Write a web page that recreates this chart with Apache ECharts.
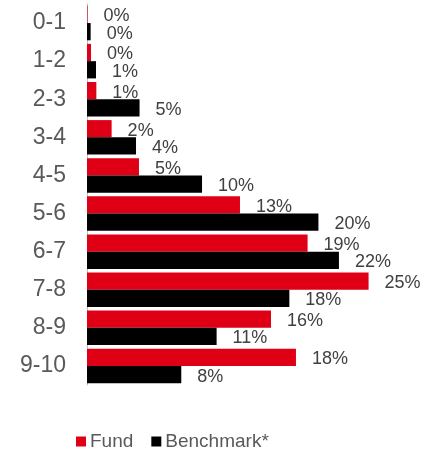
<!DOCTYPE html>
<html><head><meta charset="utf-8">
<script src="https://cdn.jsdelivr.net/npm/echarts@6/dist/echarts.min.js"></script>
<style>html,body{margin:0;padding:0;background:#fff}#c{width:435px;height:451px}</style>
</head><body><div id="c"></div>
<script>
var categories = ['0-1','1-2','2-3','3-4','4-5','5-6','6-7','7-8','8-9','9-10'];
var fund = [0.05, 0.35, 0.82, 2.16, 4.56, 13.42, 19.35, 24.7, 16.14, 18.33];
var benchmark = [0.32, 0.79, 4.61, 4.3, 10.09, 20.3, 22.1, 17.75, 11.37, 8.27];
var seriesNames = ['Fund', 'Benchmark*'];

var chart = echarts.init(document.getElementById('c'), null, {renderer:'canvas'});
var lbl = {
  show: true, position: 'right', distance: 16, offset: [0, 2],
  color: '#404040', fontSize: 18, fontFamily: 'Liberation Sans, Arial, sans-serif',
  formatter: function(p){ return Math.round(p.value) + '%'; }
};
chart.setOption({
  animation: false,
  grid: {left: 87, right: 6, top: 4, bottom: 66},
  legend: {
    data: seriesNames, top: 427, left: 71, itemWidth: 10, itemHeight: 10, itemGap: 18,
    icon: 'rect', padding: 5,
    textStyle: {color: '#595959', fontSize: 19, padding: [0, 0, 0, -1], fontFamily: 'Liberation Sans, Arial, sans-serif'}
  },
  xAxis: {type: 'value', min: 0, max: 30, show: false},
  yAxis: {
    type: 'category', data: categories, inverse: true,
    axisLine: {show: true, lineStyle: {color: '#bfbfbf'}},
    axisTick: {show: false},
    axisLabel: {color: '#595959', fontSize: 23, margin: 21, fontFamily: 'Liberation Sans, Arial, sans-serif'}
  },
  series: [
    {name: seriesNames[0], type: 'bar', data: fund, barGap: '0%', barCategoryGap: '9.4%',
     itemStyle: {color: '#DF0016'}, label: lbl},
    {name: seriesNames[1], type: 'bar', data: benchmark, barGap: '0%', barCategoryGap: '9.4%',
     itemStyle: {color: '#000000'}, label: lbl}
  ]
});
</script></body></html>
